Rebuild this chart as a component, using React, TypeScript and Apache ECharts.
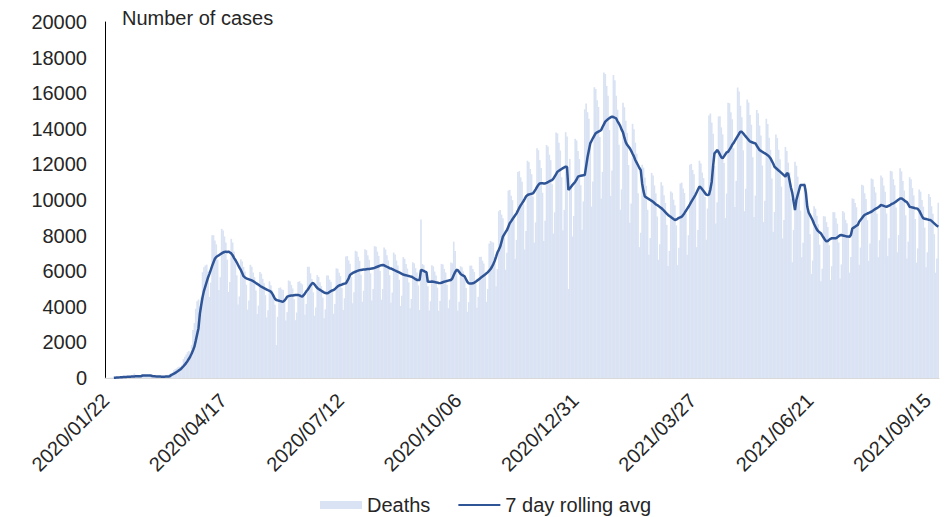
import React, { useEffect, useRef } from "react";
import * as echarts from "echarts";

// First day of the series (year, month, day)
const startDate = [2020, 1, 22];

// Daily deaths, one value per day from 2020/01/22
const deaths = [
  17, 1, 8, 16, 14, 26, 26,
  38, 43, 46, 45, 57, 64, 66,
  73, 73, 86, 89, 97, 108, 97,
  254, 13, 143, 142, 105, 98, 139,
  115, 118, 109, 97, 150, 71, 52,
  29, 44, 37, 58, 64, 67, 73,
  80, 98, 120, 150, 190,
  230, 240, 300, 430, 500, 540, 610,
  640, 620, 750, 1060, 1190, 1320, 1450,
  1510, 1440, 1850, 2700, 3080, 3890, 4310,
  4410, 4020, 4530, 5940, 6220, 6320, 6370,
  5990, 4550, 5360, 8020, 8020, 7730, 7510,
  6650, 4940, 5660, 8380, 8280, 7950, 7610,
  6650, 4830, 5400, 7820, 7610, 7110, 6700,
  5770, 4130, 4580, 6670, 6550, 6240, 5980,
  5240, 3840, 4350, 6360, 6250, 5930, 5660,
  4920, 3590, 4070, 5960, 5860, 5570, 5320,
  4650, 3400, 3800, 5430, 5210, 4910, 4710,
  4120, 1850, 3440, 5060, 5090, 4980, 4940,
  4370, 3230, 3700, 5480, 5440, 5220, 5030,
  4430, 3250, 3680, 5390, 5440, 5320, 5260,
  4710, 3560, 4160, 6250, 6250, 5880, 5560,
  4810, 3500, 3960, 5780, 5680, 5380, 5160,
  4520, 3350, 3860, 5760, 5760, 5530, 5400,
  4830, 3610, 4160, 6160, 6140, 5910, 5720,
  5050, 3820, 4480, 6830, 6850, 6610, 6420,
  5670, 4200, 4820, 7150, 7100, 6810, 6580,
  5800, 4280, 4900, 7230, 7180, 6890, 6650,
  5880, 4350, 5000, 7410, 7380, 7100, 6860,
  6010, 4400, 5000, 7330, 7220, 6890, 6610,
  5780, 4230, 4800, 7050, 6940, 6600, 6320,
  5520, 4050, 4620, 6790, 6700, 6400, 6150,
  5370, 3920, 4440, 6500, 6440, 6170, 5920,
  5200, 3820, 8900, 6410, 6340, 6060, 5840,
  5150, 3790, 4310, 6340, 6270, 5980, 5760,
  5080, 3770, 4330, 6410, 6380, 6130, 5930,
  5240, 3920, 4400, 6490, 6440, 7660, 7140,
  6180, 3780, 4280, 6280, 6220, 5990, 5780,
  5050, 3720, 4260, 6310, 6320, 6120, 5960,
  5300, 3950, 4560, 6800, 6810, 6590, 6430,
  5730, 4280, 5000, 7550, 7700, 7630, 7610,
  6840, 5160, 6120, 9370, 9440, 9180, 8980,
  8080, 6080, 7040, 10530, 10570, 10240, 9990,
  8930, 6690, 7760, 11580, 11620, 11270, 11020,
  9770, 7220, 8260, 12210, 12130, 11740, 11450,
  10190, 7600, 8740, 12910, 12800, 12240, 11800,
  10410, 7700, 8840, 13090, 13010, 12540, 12240,
  10890, 8110, 9310, 13790, 13740, 13210, 12780,
  11280, 8300, 9440, 13810, 13570, 5000, 12310,
  10740, 7950, 9100, 13440, 13340, 12750, 12300,
  10830, 8330, 9920, 15100, 15420, 14930, 14560,
  12940, 9630, 11040, 16330, 16240, 15600, 15230,
  13540, 10080, 11580, 17160, 17080, 16410, 15850,
  13930, 10230, 11660, 17020, 16730, 15850, 15070,
  13110, 9450, 10600, 15460, 15210, 14450, 13780,
  11970, 8720, 9800, 14280, 13980, 13220, 12610,
  10380, 7350, 8160, 11980, 11820, 11260, 10800,
  9450, 6930, 7860, 11520, 11370, 10820, 10370,
  9070, 6640, 7520, 11000, 10810, 10260, 9830,
  8600, 6290, 7140, 10480, 10410, 10020, 9710,
  8580, 6340, 7320, 10930, 10980, 10640, 10390,
  9260, 6920, 8020, 11980, 12030, 11690, 11450,
  10210, 7350, 8320, 12210, 12050, 11540, 11230,
  10170, 7770, 9520, 14750, 14860, 14350, 13720,
  11920, 8680, 9870, 14690, 14710, 14080, 13690,
  12080, 8980, 10360, 15460, 15440, 14930, 14540,
  12910, 9600, 11070, 16320, 16090, 15290, 14650,
  12800, 9370, 10630, 15650, 15480, 14780, 14230,
  12400, 9050, 10250, 15060, 14870, 14180, 13630,
  11940, 8760, 9960, 14570, 14270, 13500, 12820,
  11210, 8210, 9330, 13680, 13480, 12820, 12290,
  10750, 7840, 8880, 12980, 12750, 12100, 11560,
  10070, 6500, 8320, 12150, 11930, 11310, 10800,
  9410, 6790, 7600, 10970, 10650, 9970, 9400,
  8080, 5850, 6600, 9650, 9510, 9110, 8640,
  7490, 5430, 6140, 9090, 9080, 8760, 8480,
  7460, 5500, 6280, 9320, 9310, 8980, 8670,
  7610, 5590, 6380, 9380, 9300, 8890, 8690,
  7980, 5920, 6800, 10090, 10060, 9830, 9590,
  8530, 6360, 7330, 10860, 10810, 10380, 10060,
  8870, 6580, 7560, 11210, 11160, 10740, 10420,
  9230, 6790, 7740, 11380, 11260, 10810, 10470,
  9240, 6850, 7850, 11640, 11600, 11170, 10830,
  9580, 7060, 8030, 11780, 11610, 11070, 10530,
  9140, 6720, 7660, 11280, 11160, 10670, 10260,
  8930, 6480, 7280, 10590, 10470, 10000, 9620,
  8450, 6220, 7060, 10340, 10170, 9650, 9230,
  8080, 5920, 6720, 9850,
];

// 7 day rolling average, one value per day (starts once 7 days are available)
const rollingAvg = [
  null, null, null, null, null, null,
  15, 20, 25, 30, 35, 40, 45, 50, 55,
  60, 65, 70, 75, 80, 85, 90, 95, 100, 100,
  100, 105, 140, 145, 145, 145, 145, 145, 140, 110,
  100, 95, 90, 85, 80, 80, 75, 75, 75, 80,
  85, 90, 100, 170, 200, 240, 290, 340, 390, 450,
  500, 580, 660, 750, 850, 960, 1080, 1220, 1380, 1560,
  1760, 2100, 2450, 2800, 3600, 4100, 4550, 4900, 5150, 5400,
  5650, 5850, 6070, 6300, 6500, 6700, 6800, 6850, 6900, 6950,
  7000, 7050, 7080, 7100, 7080, 7100, 7050, 7000, 6900, 6750,
  6630, 6500, 6350, 6200, 6070, 5900, 5720, 5650, 5600, 5570,
  5540, 5510, 5480, 5440, 5390, 5340, 5290, 5240, 5180, 5130,
  5090, 5050, 5010, 4970, 4930, 4890, 4850, 4750, 4600, 4450,
  4380, 4360, 4340, 4320, 4300, 4290, 4350, 4450, 4570, 4600,
  4620, 4630, 4640, 4650, 4660, 4660, 4660, 4640, 4600, 4570,
  4650, 4750, 4870, 4960, 5080, 5200, 5300, 5340, 5250, 5150,
  5060, 5000, 4950, 4900, 4850, 4800, 4780, 4760, 4780, 4830,
  4880, 4920, 4940, 5000, 5080, 5150, 5200, 5220, 5250, 5280,
  5300, 5320, 5450, 5600, 5790, 5850, 5900, 5940, 5970, 6000,
  6030, 6060, 6070, 6080, 6090, 6100, 6110, 6120, 6130, 6140,
  6150, 6160, 6190, 6220, 6250, 6280, 6310, 6340, 6350, 6330,
  6290, 6250, 6210, 6170, 6150, 6120, 6080, 6040, 6000, 5970,
  5930, 5890, 5850, 5810, 5790, 5770, 5750, 5730, 5710, 5690,
  5650, 5600, 5550, 5510, 5500, 5510, 6070, 6050, 6020, 5970,
  5950, 5410, 5410, 5410, 5420, 5410, 5390, 5370, 5360, 5340,
  5330, 5350, 5380, 5410, 5430, 5450, 5470, 5490, 5510, 5600,
  5790, 5950, 6070, 6050, 5950, 5850, 5790, 5750, 5700, 5550,
  5400, 5320, 5310, 5310, 5320, 5350, 5400, 5460, 5520, 5580,
  5640, 5700, 5760, 5820, 5880, 5950, 6030, 6120, 6250, 6400,
  6580, 6810, 7050, 7200, 7370, 7650, 7940, 8070, 8200, 8310,
  8500, 8690, 8800, 8920, 9030, 9140, 9250, 9400, 9560, 9700,
  9810, 9930, 10060, 10200, 10280, 10310, 10330, 10350, 10370, 10480,
  10600, 10730, 10850, 10930, 10940, 10940, 10930, 10930, 10960, 11000,
  11050, 11090, 11120, 11200, 11330, 11460, 11590, 11640, 11690, 11740,
  11790, 11830, 11870, 11850, 10560, 10650, 10750, 10850, 10930, 11030,
  11150, 11310, 11340, 11360, 11380, 11390, 11400, 11900, 12400, 12800,
  13180, 13330, 13480, 13620, 13750, 13800, 13840, 13880, 13930, 14100,
  14250, 14400, 14470, 14540, 14600, 14650, 14680, 14660, 14620, 14580,
  14420, 14300, 14150, 13950, 13800, 13500, 13250, 13100, 13000, 12900,
  12760, 12600, 12450, 12250, 12100, 11950, 11800, 11680, 10930, 10500,
  10200, 10150, 10100, 10050, 10000, 9950, 9900, 9830, 9760, 9720,
  9660, 9600, 9550, 9480, 9400, 9320, 9240, 9160, 9100, 9050,
  8990, 8930, 8880, 8900, 8950, 8990, 9030, 9060, 9150, 9260,
  9380, 9500, 9620, 9750, 9890, 10020, 10150, 10280, 10440, 10600,
  10750, 10700, 10600, 10500, 10400, 10300, 10280, 10300, 10600, 11030,
  11900, 12620, 12700, 12810, 12700, 12550, 12400, 12340, 12450, 12570,
  12680, 12710, 12830, 12950, 13100, 13200, 13330, 13460, 13590, 13720,
  13840, 13830, 13750, 13650, 13560, 13470, 13380, 13290, 13260, 13230,
  13200, 13180, 13050, 12930, 12810, 12760, 12710, 12660, 12620, 12570,
  12510, 12450, 12350, 12200, 12050, 11870, 11800, 11730, 11660, 11590,
  11520, 11450, 11380, 11310, 11500, 11480, 11100, 10700, 10400, 9900,
  9440, 10000, 10280, 10560, 10840, 10840, 10840, 10840, 10400, 9620,
  9300, 9150, 9000, 8850, 8650, 8500, 8350, 8250, 8180, 8130,
  8000, 7880, 7760, 7680, 7700, 7760, 7820, 7850, 7850, 7850,
  7850, 7900, 7960, 8020, 8030, 8010, 7990, 7970, 7950, 7950,
  7940, 8050, 8400, 8450, 8500, 8550, 8600, 8780, 8880, 8980,
  9080, 9160, 9200, 9240, 9270, 9310, 9340, 9400, 9450, 9500,
  9540, 9590, 9650, 9720, 9700, 9670, 9640, 9620, 9650, 9690,
  9730, 9780, 9810, 9860, 9910, 9970, 10030, 10080, 10090, 10040,
  9980, 9920, 9880, 9750, 9620, 9600, 9580, 9560, 9540, 9530,
  9500, 9400, 9250, 9100, 8970, 8950, 8930, 8910, 8890, 8880,
  8830, 8760, 8690, 8620, 8550, 8500,
];

const seriesNames = ["Deaths", "7 day rolling avg"];
const yAxisTitle = "Number of cases";

function pad(n: number) {
  return n < 10 ? "0" + n : String(n);
}

function buildDates(count: number): string[] {
  const out: string[] = [];
  const base = Date.UTC(startDate[0], startDate[1] - 1, startDate[2]);
  for (let i = 0; i < count; i++) {
    const d = new Date(base + i * 86400000);
    out.push(d.getUTCFullYear() + "/" + pad(d.getUTCMonth() + 1) + "/" + pad(d.getUTCDate()));
  }
  return out;
}

const FONT = "'Liberation Sans', Arial, Helvetica, sans-serif";
const TEXT = "#262626";

export default function App() {
  const ref = useRef<HTMLDivElement>(null);

  useEffect(() => {
    if (!ref.current) return;
    const chart = echarts.init(ref.current, undefined, { renderer: "svg" });
    const categories = buildDates(deaths.length);
    chart.setOption({
      animation: false,
      backgroundColor: "#ffffff",
      textStyle: { fontFamily: FONT },
      title: {
        text: yAxisTitle,
        left: 117,
        top: 3,
        textStyle: { fontFamily: FONT, fontSize: 20, fontWeight: "normal", color: TEXT },
      },
      legend: {
        data: [
          { name: seriesNames[0], icon: "rect" },
          { name: seriesNames[1], itemStyle: { opacity: 0 } },
        ],
        left: 315,
        top: 490,
        itemWidth: 42,
        itemHeight: 8,
        itemGap: 27,
        textStyle: { fontFamily: FONT, fontSize: 20, color: TEXT },
      },
      grid: { left: 105, right: 12, top: 22, bottom: 139 },
      xAxis: {
        type: "category",
        data: categories,
        boundaryGap: true,
        axisLine: { show: true, lineStyle: { color: "#D9D9D9", width: 1 } },
        axisTick: { show: false },
        axisLabel: {
          interval: 85,
          rotate: 45,
          margin: 19,
          fontFamily: FONT,
          fontSize: 20,
          color: TEXT,
        },
        splitLine: { show: false },
      },
      yAxis: {
        type: "value",
        min: 0,
        max: 20000,
        interval: 2000,
        axisLine: { show: true, lineStyle: { color: "#000000", width: 1 } },
        axisTick: { show: false },
        axisLabel: {
          margin: 18,
          fontFamily: FONT,
          fontSize: 20,
          color: TEXT,
          formatter: (v: number) => String(v),
        },
        splitLine: { show: false },
      },
      series: [
        {
          name: seriesNames[0],
          type: "bar",
          data: deaths,
          barWidth: 1.7,
          itemStyle: { color: "#DAE3F3" },
          emphasis: { disabled: true },
        },
        {
          name: seriesNames[1],
          type: "line",
          data: rollingAvg,
          symbol: "none",
          showSymbol: false,
          connectNulls: false,
          lineStyle: { color: "#2F5597", width: 2.5 },
          itemStyle: { color: "#2F5597" },
          emphasis: { disabled: true },
          z: 3,
        },
      ],
    });
    return () => chart.dispose();
  }, []);

  return (
    <div
      ref={ref}
      style={{ position: "fixed", left: 0, top: 0, width: 951, height: 517, background: "#fff" }}
    />
  );
}
